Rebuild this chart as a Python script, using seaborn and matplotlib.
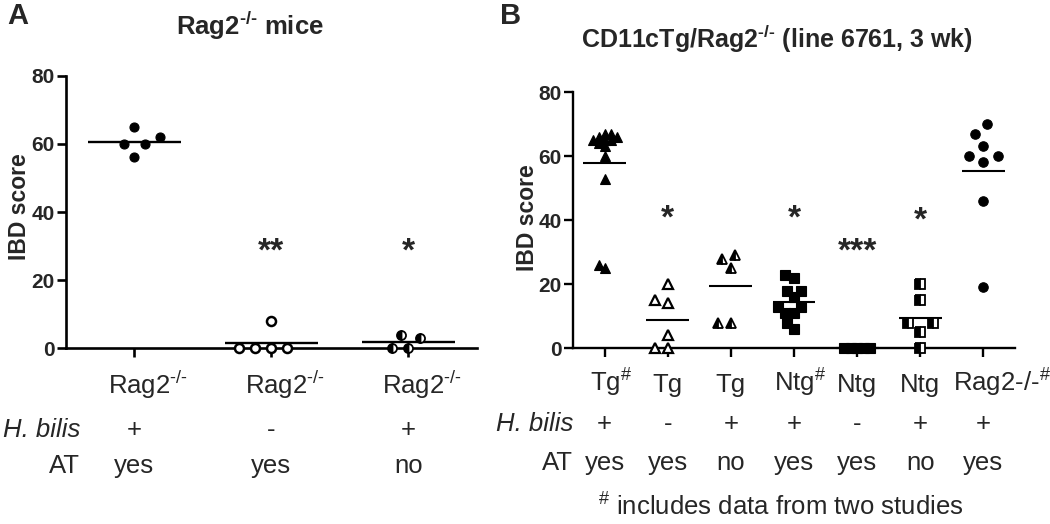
import numpy as np
import pandas as pd
import matplotlib
matplotlib.use("Agg")
import matplotlib.pyplot as plt
import matplotlib.transforms as mtransforms
from matplotlib.collections import PathCollection
from matplotlib import font_manager
import seaborn as sns

sns.set_style("ticks")

installed = {f.name for f in font_manager.fontManager.ttflist}
NARROW = "Liberation Sans Narrow" if "Liberation Sans Narrow" in installed else "Liberation Sans"
LAB_FS = 21.5 if NARROW == "Liberation Sans Narrow" else 18.5

plt.rcParams["font.family"] = ["Liberation Sans", "DejaVu Sans"]
plt.rcParams["mathtext.fontset"] = "custom"
plt.rcParams["mathtext.rm"] = NARROW
plt.rcParams["mathtext.it"] = NARROW + ":italic"
plt.rcParams["mathtext.bf"] = "Liberation Sans:bold"

HY = "\u2010"  # short hyphen, mathtext would turn "-" into a long minus

# -----------------------
# Panel A data
# -----------------------
a_groups = ["Rag2 +/yes", "Rag2 -/yes", "Rag2 +/no"]
a_scores = [
    [65, 62, 60, 60, 56],
    [8, 0, 0, 0, 0],
    [3, 4, 0, 0],
]
a_names = [r"Rag2$^{\mathrm{" + HY + "/" + HY + "}}$"] * 3
a_hbilis = ["+", "-", "+"]
a_at = ["yes", "yes", "no"]
a_stars = ["", "**", "*"]
a_star_y = [np.nan, 31.5, 31.5]

# -----------------------
# Panel B data
# -----------------------
b_groups = ["Tg# +/yes", "Tg -/yes", "Tg +/no", "Ntg# +/yes", "Ntg -/yes", "Ntg +/no", "Rag2# +/yes"]
b_scores = [
    [67, 66, 65, 65, 65, 66, 67, 64, 63, 60, 53, 25, 26],
    [20, 15, 14, 4, 0, 0],
    [28, 25, 29, 8, 8],
    [23, 22, 18, 18, 16, 13, 13, 11, 11, 8, 6],
    [0, 0, 0, 0, 0],
    [20, 15, 8, 8, 5, 0],
    [70, 67, 63, 60, 60, 58, 46, 19],
]
b_names = [r"Tg$^{\mathrm{\#}}$", "Tg", "Tg", r"Ntg$^{\mathrm{\#}}$", "Ntg", "Ntg",
           r"Rag2-/-$^{\mathrm{\#}}$"]
b_hbilis = ["+", "-", "+", "+", "-", "+", "+"]
b_at = ["yes", "yes", "no", "yes", "yes", "no", "yes"]
b_stars = ["", "*", "", "*", "***", "*", ""]
b_star_y = [np.nan, 44, np.nan, 44, 33.5, 43.2, np.nan]

# marker looks (GraphPad style)
FULL = dict(mfc="black", mec="black")
OPEN = dict(mfc="white", mec="black")
HALF = dict(mfc="black", mfcalt="white", mec="black", fillstyle="left")
a_styles = [
    dict(marker="o", ms=6.5, mew=0.8, **FULL),
    dict(marker="o", ms=6.5, mew=1.8, **OPEN),
    dict(marker="o", ms=6.5, mew=1.3, **HALF),
]
b_styles = [
    dict(marker="^", ms=6.8, mew=0.8, **FULL),
    dict(marker="^", ms=6.8, mew=1.6, **OPEN),
    dict(marker="^", ms=6.8, mew=1.3, **HALF),
    dict(marker="s", ms=7.0, mew=0.8, **FULL),
    dict(marker="s", ms=7.0, mew=0.8, **FULL),
    dict(marker="s", ms=7.0, mew=1.3, **HALF),
    dict(marker="o", ms=6.8, mew=0.8, **FULL),
]
# spacing used by the swarm layout (points), GraphPad packs some columns tighter
a_swarm = [12, 11, 11]
b_swarm = [4.5, 9, 9, 6.5, 4.5, 11, 11]

fig = plt.figure(figsize=(10.5, 5.24), dpi=100)
ax_a = fig.add_axes([66 / 1050, 1 - 348.3 / 524, 410.7 / 1050, 272.6 / 524])
ax_b = fig.add_axes([573 / 1050, 1 - 348.3 / 524, 442 / 1050, 256.3 / 524])


def draw_panel(ax, groups, scores, swarm_sizes, line_w, spine_w):
    df = pd.DataFrame({
        "group": np.repeat(groups, [len(s) for s in scores]),
        "score": np.concatenate(scores).astype(float),
    })
    for g, size in zip(groups, swarm_sizes):
        sns.swarmplot(data=df[df["group"] == g], x="group", y="score", order=groups,
                      size=size, color="black", linewidth=0, ax=ax, warn_thresh=1)
    ax.set_xlim(-0.5, len(groups) - 0.5)
    ax.set_ylim(0, 80)
    means = df.groupby("group", sort=False)["score"].mean().reindex(groups)
    pos = np.arange(len(groups))
    ax.hlines(means.values, pos - 0.34, pos + 0.34, color="black", lw=line_w,
              zorder=2.6, clip_on=False)

    sns.despine(ax=ax)
    for side in ["left", "bottom"]:
        ax.spines[side].set_linewidth(spine_w)
        ax.spines[side].set_color("black")
    ax.set_yticks([0, 20, 40, 60, 80])
    ax.set_xticks(pos)
    ax.set_xticklabels([])
    ax.set_xlabel("")
    ax.tick_params(axis="both", direction="out", length=6.5, width=spine_w,
                   color="black", labelsize=15, pad=1.5)
    for t in ax.get_yticklabels():
        t.set_fontweight("bold")
    ax.set_ylabel("IBD score", fontsize=16.5, fontweight="bold")
    return df


draw_panel(ax_a, a_groups, a_scores, a_swarm, line_w=1.7, spine_w=1.9)
draw_panel(ax_b, b_groups, b_scores, b_swarm, line_w=1.5, spine_w=1.7)
ax_a.yaxis.set_label_coords(-0.085, 0.518)
ax_b.yaxis.set_label_coords(-0.077, 0.508)

# let seaborn lay out the swarms, then redraw the points with GraphPad markers
fig.canvas.draw()
for ax, styles in [(ax_a, a_styles), (ax_b, b_styles)]:
    for coll in [c for c in ax.collections if isinstance(c, PathCollection)]:
        xy = np.asarray(coll.get_offsets())
        coll.remove()
        if len(xy) == 0:
            continue
        idx = int(round(np.median(xy[:, 0])))
        ax.plot(xy[:, 0], xy[:, 1], linestyle="none", zorder=3, clip_on=False,
                **styles[idx])


def add_stars(ax, stars, star_y, fs=24):
    shift = mtransforms.ScaledTranslation(0, -0.6 * fs / 72, fig.dpi_scale_trans)
    for i, (s, y) in enumerate(zip(stars, star_y)):
        if s:
            ax.text(i, y, s, ha="center", va="baseline", fontsize=fs,
                    fontweight="bold", transform=ax.transData + shift)


add_stars(ax_a, a_stars, a_star_y)
add_stars(ax_b, b_stars, b_star_y)


def add_rows(ax, names, hbilis, at, name_dx, rows_y, head_x):
    trans = mtransforms.blended_transform_factory(ax.transData, fig.transFigure)
    kw = dict(ha="center", va="baseline", fontsize=LAB_FS, family=NARROW, transform=trans)
    for i in range(len(names)):
        ax.text(i + name_dx[i], rows_y[0], names[i], **kw)
        ax.text(i, rows_y[1], hbilis[i], **kw)
        ax.text(i, rows_y[2], at[i], **kw)
    fig.text(head_x, rows_y[1], "H. bilis", ha="right", va="baseline", fontsize=LAB_FS,
             family=NARROW, style="italic")
    fig.text(head_x, rows_y[2], "AT", ha="right", va="baseline", fontsize=LAB_FS,
             family=NARROW)


add_rows(ax_a, a_names, a_hbilis, a_at, [0.1, 0.1, 0.1],
         [1 - 394 / 524, 1 - 437 / 524, 1 - 473 / 524], 80 / 1050)
add_rows(ax_b, b_names, b_hbilis, b_at, [0.1, 0, 0, 0.1, 0, 0, 0.3],
         [1 - 392 / 524, 1 - 431 / 524, 1 - 470 / 524], 573 / 1050)

fig.text(781 / 1050, 1 - 516 / 524, r"$^{\mathrm{\#}}$ includes data from two studies",
         ha="center", va="baseline", fontsize=LAB_FS, family=NARROW)

# titles and panel letters
fig.text(249.5 / 1050, 1 - 35 / 524, r"Rag2$^{\mathbf{" + HY + "/" + HY + "}}$ mice",
         ha="center", va="baseline", fontsize=18.5, fontweight="bold")
fig.text(777 / 1050, 1 - 48 / 524,
         r"CD11cTg/Rag2$^{\mathbf{" + HY + "/" + HY + "}}$ (line 6761, 3 wk)",
         ha="center", va="baseline", fontsize=18, fontweight="bold")
fig.text(7 / 1050, 1 - 24 / 524, "A", ha="left", va="baseline", fontsize=21, fontweight="bold")
fig.text(500 / 1050, 1 - 24 / 524, "B", ha="left", va="baseline", fontsize=21, fontweight="bold")

fig.savefig("out.png", dpi=100)
